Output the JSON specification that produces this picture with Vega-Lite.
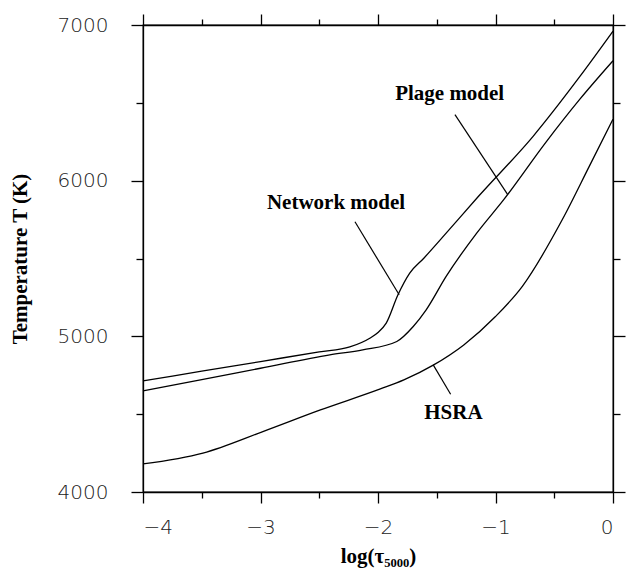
{
  "$schema": "https://vega.github.io/schema/vega-lite/v6.json",
  "width": 470,
  "height": 467,
  "autosize": {"type": "none"},
  "padding": {"left": 143, "top": 25, "right": 16, "bottom": 78},
  "background": "white",
  "config": {
    "view": {"stroke": "black", "strokeWidth": 1.3},
    "axis": {"grid": false, "domainColor": "black", "domainWidth": 1.3, "tickColor": "black", "tickWidth": 1.3}
  },
  "datasets": {
    "curves": [
      {"model": "Network", "x": -4.0, "T": 4714},
      {"model": "Network", "x": -3.5, "T": 4776},
      {"model": "Network", "x": -3.0, "T": 4838},
      {"model": "Network", "x": -2.5, "T": 4900},
      {"model": "Network", "x": -2.24, "T": 4932},
      {"model": "Network", "x": -2.07, "T": 4988},
      {"model": "Network", "x": -2.0, "T": 5025},
      {"model": "Network", "x": -1.93, "T": 5085},
      {"model": "Network", "x": -1.83, "T": 5267},
      {"model": "Network", "x": -1.73, "T": 5406},
      {"model": "Network", "x": -1.61, "T": 5502},
      {"model": "Network", "x": -1.42, "T": 5663},
      {"model": "Network", "x": -1.15, "T": 5895},
      {"model": "Network", "x": -0.68, "T": 6285},
      {"model": "Network", "x": -0.28, "T": 6671},
      {"model": "Network", "x": 0.0, "T": 6960},
      {"model": "Plage", "x": -4.0, "T": 4650},
      {"model": "Plage", "x": -3.5, "T": 4722},
      {"model": "Plage", "x": -3.0, "T": 4795},
      {"model": "Plage", "x": -2.41, "T": 4881},
      {"model": "Plage", "x": -2.13, "T": 4913},
      {"model": "Plage", "x": -1.84, "T": 4967},
      {"model": "Plage", "x": -1.7, "T": 5063},
      {"model": "Plage", "x": -1.59, "T": 5170},
      {"model": "Plage", "x": -1.42, "T": 5385},
      {"model": "Plage", "x": -1.16, "T": 5663},
      {"model": "Plage", "x": -0.93, "T": 5878},
      {"model": "Plage", "x": -0.57, "T": 6248},
      {"model": "Plage", "x": -0.28, "T": 6525},
      {"model": "Plage", "x": 0.0, "T": 6770},
      {"model": "HSRA", "x": -4.0, "T": 4180},
      {"model": "HSRA", "x": -3.49, "T": 4250},
      {"model": "HSRA", "x": -2.98, "T": 4388},
      {"model": "HSRA", "x": -2.49, "T": 4527},
      {"model": "HSRA", "x": -1.98, "T": 4662},
      {"model": "HSRA", "x": -1.78, "T": 4720},
      {"model": "HSRA", "x": -1.53, "T": 4815},
      {"model": "HSRA", "x": -1.27, "T": 4945},
      {"model": "HSRA", "x": -1.0, "T": 5127},
      {"model": "HSRA", "x": -0.77, "T": 5323},
      {"model": "HSRA", "x": -0.43, "T": 5752},
      {"model": "HSRA", "x": -0.2, "T": 6095},
      {"model": "HSRA", "x": 0.0, "T": 6395}
    ],
    "leaders": [
      {"x": -2.196, "T": 5736, "x2": -1.82, "T2": 5267},
      {"x": -1.345, "T": 6424, "x2": -0.896, "T2": 5910},
      {"x": -1.53, "T": 4817, "x2": -1.382, "T2": 4628}
    ],
    "labels": [
      {"label": "Network model", "x": -2.357, "T": 5820},
      {"label": "Plage model", "x": -1.39, "T": 6521},
      {"label": "HSRA", "x": -1.358, "T": 4469}
    ]
  },
  "layer": [
    {
      "data": {"name": "curves"},
      "mark": {"type": "line", "color": "black", "strokeWidth": 1.3, "interpolate": "monotone"},
      "encoding": {
        "x": {
          "field": "x", "type": "quantitative",
          "scale": {"domain": [-4, 0], "nice": false, "zero": false},
          "axis": {
            "orient": "bottom",
            "values": [-4, -3.5, -3, -2.5, -2, -1.5, -1, -0.5, 0],
            "labelExpr": "datum.value % 1 == 0 ? (datum.value < 0 ? '−' + format(-datum.value, 'd') : format(datum.value, 'd')) : ''",
            "tickSize": {"condition": {"test": "datum.value % 1 == 0", "value": 11}, "value": 6},
            "labelPadding": 14,
            "labelFont": "DejaVu Sans", "labelFontWeight": 200, "labelFontSize": 20, "labelColor": "#222",
            "title": "log(τ₅₀₀₀)",
            "titleFont": "Liberation Serif", "titleFontSize": 21, "titleFontWeight": "bold", "titleColor": "black",
            "titlePadding": 8
          }
        },
        "y": {
          "field": "T", "type": "quantitative",
          "scale": {"domain": [4000, 7000], "nice": false, "zero": false},
          "axis": {
            "orient": "left",
            "values": [4000, 4500, 5000, 5500, 6000, 6500, 7000],
            "format": "d",
            "labelExpr": "datum.value % 1000 == 0 ? datum.label : ''",
            "tickSize": {"condition": {"test": "datum.value % 1000 == 0", "value": 12}, "value": 7},
            "labelPadding": 23,
            "labelFont": "DejaVu Sans", "labelFontWeight": 200, "labelFontSize": 20, "labelColor": "#222",
            "title": "Temperature T (K)",
            "titleFont": "Liberation Serif", "titleFontSize": 21, "titleFontWeight": "bold", "titleColor": "black",
            "titlePadding": 27
          }
        },
        "detail": {"field": "model"}
      }
    },
    {
      "data": {"name": "leaders"},
      "mark": {"type": "rule", "color": "black", "strokeWidth": 1.2},
      "encoding": {
        "x": {"field": "x", "type": "quantitative", "axis": null},
        "y": {"field": "T", "type": "quantitative", "axis": null},
        "x2": {"field": "x2"},
        "y2": {"field": "T2"}
      }
    },
    {
      "data": {"name": "labels"},
      "mark": {"type": "text", "font": "Liberation Serif", "fontSize": 21, "fontWeight": "bold", "align": "center", "baseline": "alphabetic", "color": "black"},
      "encoding": {
        "x": {"field": "x", "type": "quantitative", "axis": null},
        "y": {"field": "T", "type": "quantitative", "axis": null},
        "text": {"field": "label"}
      }
    },
    {
      "data": {"name": "curves"},
      "mark": {"type": "line", "opacity": 0},
      "encoding": {
        "x": {
          "field": "x", "type": "quantitative",
          "axis": {
            "orient": "top", "labels": false, "title": null,
            "values": [-4, -3.5, -3, -2.5, -2, -1.5, -1, -0.5, 0],
            "tickSize": {"condition": {"test": "datum.value % 1 == 0", "value": 11}, "value": 6}
          }
        },
        "y": {
          "field": "T", "type": "quantitative",
          "axis": {
            "orient": "right", "labels": false, "title": null,
            "values": [4000, 4500, 5000, 5500, 6000, 6500, 7000],
            "tickSize": {"condition": {"test": "datum.value % 1000 == 0", "value": 12}, "value": 7}
          }
        },
        "detail": {"field": "model"}
      }
    }
  ],
  "resolve": {"axis": {"x": "independent", "y": "independent"}}
}
